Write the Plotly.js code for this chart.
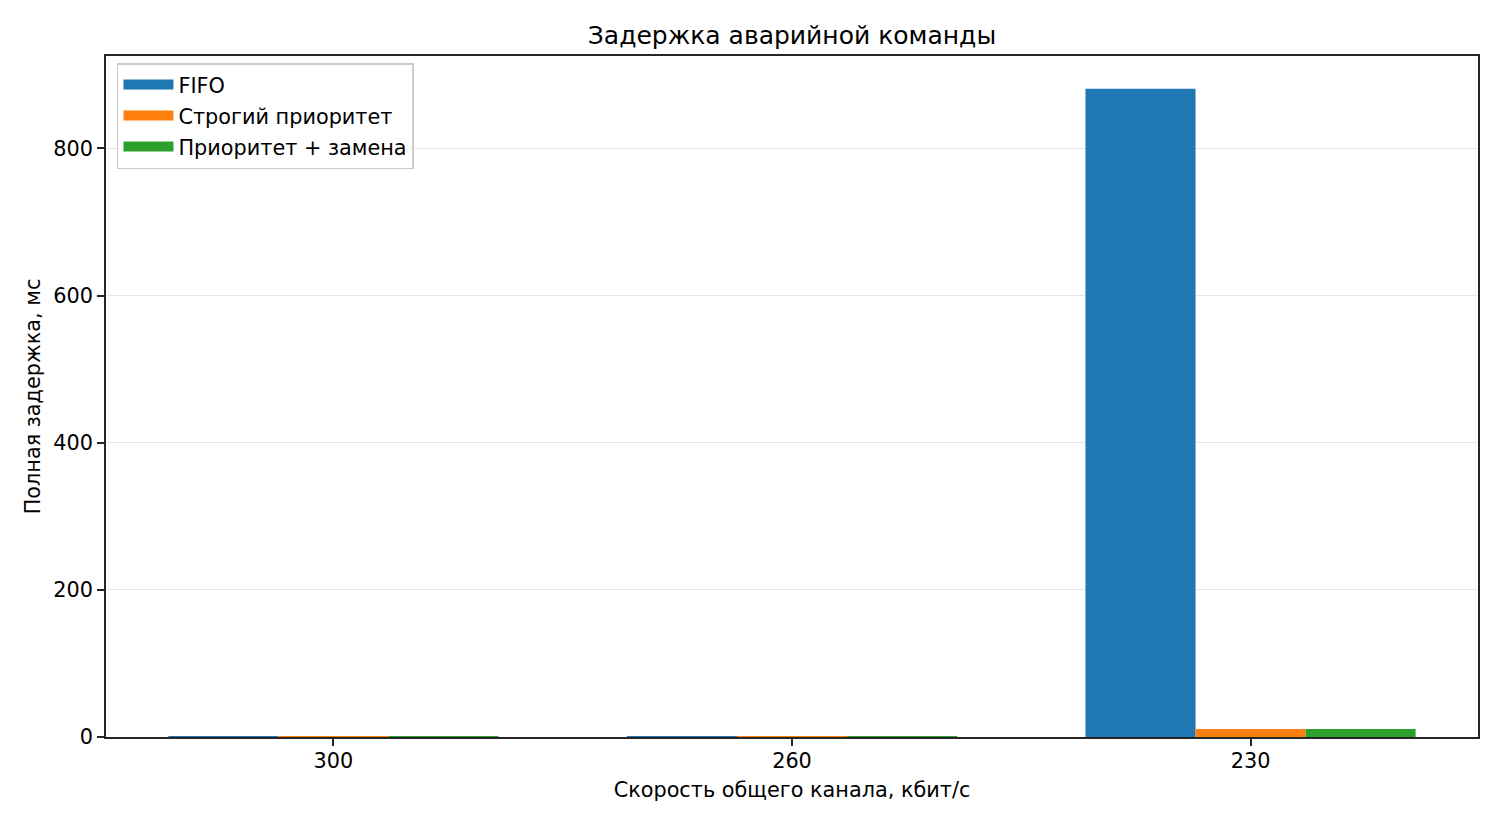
<!DOCTYPE html>
<html>
<head>
<meta charset="utf-8">
<script src="https://cdn.plot.ly/plotly-3.0.1.min.js"></script>
<style>
  html, body { margin: 0; padding: 0; background: #fff; }
  #chart { width: 1500px; height: 825px; }
</style>
</head>
<body>
<div id="chart"></div>
<script>
// channel speed, kbit/s
const speeds = ["300", "260", "230"]
const speed_pos = [0, 1, 2]

// total delay of the emergency command, ms
const fifo_delay = [0.4, 0.4, 881]
const strict_delay = [0.4, 0.4, 10.8]
const replace_delay = [0.4, 0.4, 10.8]

const series_names = ["FIFO", "Строгий приоритет", "Приоритет + замена"]
const series_colors = ["#1f77b4", "#ff7f0e", "#2ca02c"]

const font_family = "DejaVu Sans, sans-serif"
const font_size = 20.8

function bar_trace(i, y)
{
    return {
        type: 'bar',
        name: series_names[i],
        legendgroup: series_names[i],
        showlegend: false,
        x: speed_pos,
        y: y,
        marker: { color: series_colors[i], line: { width: 0 } },
        hovertemplate: "%{y} мс<extra>" + series_names[i] + "</extra>"
    }
}

// legend-only entry, so the key looks like a wide flat patch
function legend_trace(i)
{
    return {
        type: 'scatter',
        mode: 'lines',
        name: series_names[i],
        legendgroup: series_names[i],
        x: [null],
        y: [null],
        line: { color: series_colors[i], width: 14 },
        hoverinfo: 'skip'
    }
}

const data = [
    bar_trace(0, fifo_delay),
    bar_trace(1, strict_delay),
    bar_trace(2, replace_delay),
    legend_trace(0),
    legend_trace(1),
    legend_trace(2),
]

const axis_common = {
    showline: true,
    linecolor: "#262626",
    linewidth: 1.6,
    mirror: true,
    ticks: "outside",
    ticklen: 7,
    tickwidth: 1.6,
    tickcolor: "#262626",
    tickfont: { family: font_family, size: font_size, color: "#000" },
    zeroline: false,
    automargin: false,
    layer: "above traces"
}

const layout = {
    width: 1500,
    height: 825,
    paper_bgcolor: "#fff",
    plot_bgcolor: "#fff",
    margin: { l: 106, r: 22, t: 56, b: 88 },
    font: { family: font_family, color: "#000" },
    title: {
        text: "Задержка аварийной команды",
        font: { family: font_family, size: 25, color: "#000" },
        x: 0.5,
        xref: "paper",
        y: 1 - 35 / 825,
        yanchor: "middle"
    },
    barmode: "group",
    bargap: 0.28,
    bargroupgap: 0,
    xaxis: Object.assign({}, axis_common, {
        range: [-0.496, 2.496],
        tickmode: "array",
        tickvals: speed_pos,
        ticktext: speeds,
        showgrid: false,
        ticklabelstandoff: -3,
        title: { text: "Скорость общего канала, кбит/с", font: { family: font_family, size: font_size }, standoff: 11 }
    }),
    yaxis: Object.assign({}, axis_common, {
        range: [0, 925.5],
        tickmode: "array",
        tickvals: [0, 200, 400, 600, 800],
        showgrid: true,
        gridcolor: "#e6e6e6",
        gridwidth: 1.2,
        title: { text: "Полная задержка, мс", font: { family: font_family, size: font_size }, standoff: 7 }
    }),
    legend: {
        x: 0.008,
        y: 0.9897,
        xanchor: "left",
        yanchor: "top",
        bgcolor: "rgba(255,255,255,0.8)",
        bordercolor: "#cccccc",
        borderwidth: 1.5,
        font: { family: font_family, size: font_size, color: "#000" },
        tracegroupgap: 1,
        itemwidth: 50
    },
    showlegend: true
}

Plotly.newPlot("chart", data, layout, { displaylogo: false, displayModeBar: false })
</script>
</body>
</html>
